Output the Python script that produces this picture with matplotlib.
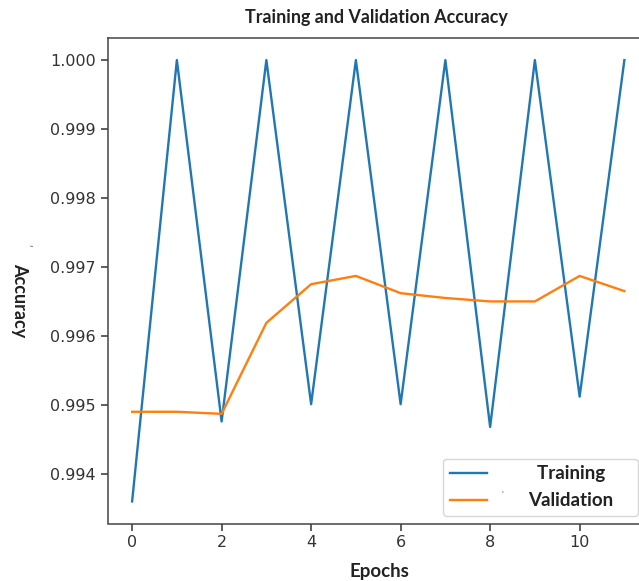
import matplotlib.pyplot as plt

epochs = list(range(12))
train_acc = [0.99360, 1.0, 0.99476, 1.0, 0.99501, 1.0, 0.99501, 1.0, 0.99468, 1.0, 0.99512, 1.0]
val_acc = [0.99490, 0.99490, 0.99487, 0.99619, 0.99675, 0.99687, 0.99662, 0.99655, 0.99650, 0.99650, 0.99687, 0.99665]

W, H = 639, 581
fig = plt.figure(figsize=(W / 100, H / 100), dpi=100)
# axes runs a bit past the right edge, like the cropped original
ax = fig.add_axes([107.5 / W, 1 - 523.5 / H, (649 - 107.5) / W, (523.5 - 38) / H])

ax.plot(epochs, train_acc, color='#1f77b4', lw=1.7, label='  Training    ')
ax.plot(epochs, val_acc, color='#ff7f0e', lw=1.7, label='Validation    ')

ax.set_xticks([0, 2, 4, 6, 8, 10])
ax.set_yticks([0.994, 0.995, 0.996, 0.997, 0.998, 0.999, 1.0])
ax.set_yticklabels(['0.994', '0.995', '0.996', '0.997', '0.998', '0.999', '1.000'])
ax.tick_params(labelsize=11.5, colors='#333333', length=5, width=1.1)
for s in ax.spines.values():
    s.set_color('#444444')
    s.set_linewidth(1.1)

bold = dict(family='Lato', weight='bold', color='#222222')
fig.text(376 / W, 1 - 17 / H, 'Training and Validation Accuracy', ha='center', va='center', fontsize=12.9, **bold)
fig.text(379 / W, 1 - 572 / H, 'Epochs', ha='center', va='center', fontsize=13.5, **bold)
fig.text(20 / W, 1 - 300 / H, 'Accuracy', ha='center', va='center', rotation=270, fontsize=13, **bold)
fig.text(27 / W, 1 - 245 / H, "'", ha='center', va='center', rotation=270, fontsize=7, color='#555555')

leg = ax.legend(loc='lower right', bbox_to_anchor=(638 / W, 1 - 516 / H), bbox_transform=fig.transFigure,
                prop=dict(family='Lato', weight='bold', size=13.5), handlelength=2.0, handletextpad=2.2,
                borderpad=0.35, labelspacing=0.55, borderaxespad=0)
for t in leg.get_texts():
    t.set_color('#222222')
fig.text(502 / W, 1 - 493 / H, "'", ha='center', va='center', fontsize=5, color='#555555')

fig.savefig('out.png', dpi=100)
